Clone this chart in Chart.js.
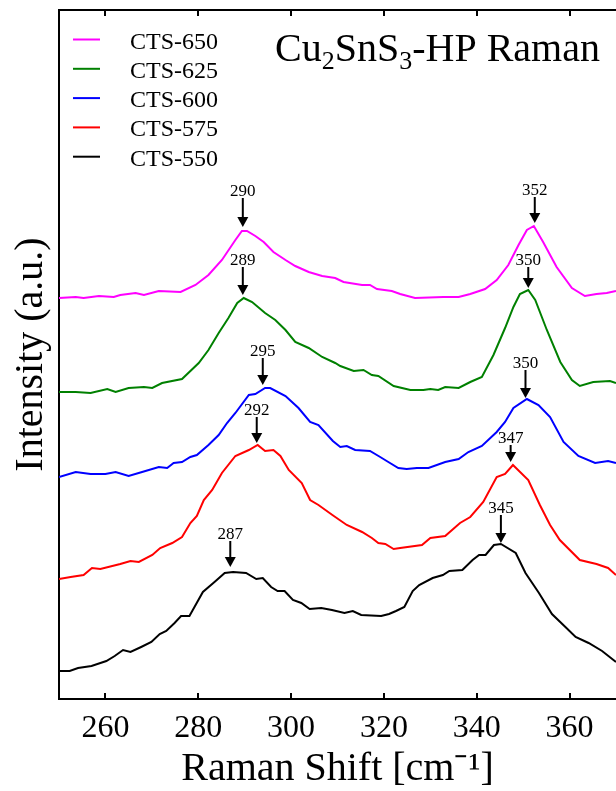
<!DOCTYPE html>
<html>
<head>
<meta charset="utf-8">
<title>Cu2SnS3-HP Raman</title>
<script src="https://cdn.jsdelivr.net/npm/chart.js@4/dist/chart.umd.min.js"></script>
<style>
    html, body { margin: 0; padding: 0; background: #ffffff; }
    #ramanChart { display: block; }
</style>
</head>
<body>
<canvas id="ramanChart" width="616" height="791"></canvas>
<script>
// Raman shift (cm-1) and intensity (a.u., curves offset vertically)
const shift650 = [250.0, 253.6, 255.3, 258.6, 261.8, 263.2, 266.5, 268.3, 271.5, 276.2, 279.4, 282.2, 285.1, 288.0, 289.4, 290.5, 292.3, 294.1, 296.2, 298.8, 300.9, 303.8, 306.7, 309.5, 311.3, 315.3, 317.0, 318.5, 321.7, 323.5, 326.7, 332.8, 336.1, 338.6, 341.8, 344.3, 346.8, 349.0, 350.8, 352.3, 354.3, 357.2, 360.5, 363.3, 365.8, 368.0, 370.0];
const int650 = [401, 402, 401, 403, 402, 404, 406, 404, 408, 407, 414, 424, 439, 459, 468, 468, 463, 457, 447, 439, 433, 427, 423, 421, 417, 414, 414, 410, 408, 405, 401, 402, 402, 405, 410, 419, 434, 454, 469, 473, 457, 432, 411, 403, 405, 406, 408];

const shift625 = [250.0, 253.6, 256.8, 260.4, 262.2, 265.0, 268.3, 270.1, 272.2, 276.5, 280.1, 282.2, 284.4, 286.5, 288.4, 289.8, 291.6, 294.4, 296.6, 298.8, 300.9, 303.8, 306.7, 309.5, 310.6, 313.5, 315.6, 317.4, 318.8, 322.1, 325.7, 328.5, 330.0, 331.7, 333.2, 336.1, 338.6, 341.1, 343.6, 346.1, 347.9, 349.3, 351.1, 352.6, 355.1, 358.0, 360.5, 362.2, 365.1, 368.7, 370.0];
const int625 = [307, 307, 306, 310, 307, 311, 312, 311, 316, 320, 336, 349, 366, 381, 396, 401, 397, 386, 379, 369, 357, 351, 342, 336, 333, 328, 329, 324, 323, 313, 309, 309, 310, 309, 312, 311, 317, 322, 344, 371, 392, 405, 409, 399, 369, 337, 319, 313, 317, 318, 316];

const shift600 = [250.0, 253.6, 256.8, 260.0, 262.2, 265.0, 267.9, 271.5, 273.3, 274.7, 276.5, 278.3, 279.7, 282.2, 284.4, 286.2, 288.0, 290.9, 292.3, 294.4, 295.5, 298.8, 301.6, 304.1, 305.9, 309.0, 310.6, 312.0, 313.8, 317.0, 319.2, 320.6, 323.1, 324.9, 327.1, 329.6, 333.2, 336.1, 338.2, 341.1, 344.3, 346.1, 347.9, 350.8, 353.3, 355.8, 358.7, 361.9, 365.5, 368.3, 370.0];
const int600 = [222, 227, 225, 225, 227, 223, 227, 232, 231, 236, 237, 242, 244, 254, 264, 276, 286, 304, 305, 311, 311, 303, 291, 277, 274, 258, 252, 253, 249, 248, 242, 238, 231, 230, 231, 231, 237, 240, 247, 253, 267, 277, 291, 300, 294, 282, 257, 243, 236, 238, 236];

const shift575 = [250.0, 252.5, 255.3, 257.1, 258.9, 263.2, 265.4, 267.2, 270.1, 271.8, 274.4, 276.5, 278.3, 279.7, 281.2, 283.0, 285.1, 288.0, 290.9, 292.8, 294.4, 296.2, 297.7, 299.5, 302.3, 304.1, 305.9, 308.9, 312.0, 315.3, 317.4, 318.8, 320.3, 322.1, 323.5, 328.2, 330.0, 333.2, 336.4, 338.6, 341.4, 344.3, 346.1, 347.8, 351.1, 353.6, 355.8, 357.9, 362.2, 365.8, 368.3, 370.0];
const int575 = [120, 122, 124, 131, 130, 135, 138, 137, 144, 151, 156, 162, 176, 183, 199, 209, 226, 243, 249, 254, 248, 249, 243, 229, 216, 199, 194, 184, 174, 167, 161, 156, 155, 150, 151, 154, 161, 163, 176, 182, 197, 222, 225, 234, 219, 194, 174, 159, 139, 135, 131, 124];

const shift550 = [250.0, 252.3, 254.1, 257.0, 260.2, 262.0, 263.8, 265.4, 267.7, 269.9, 271.7, 273.1, 274.9, 276.3, 278.1, 281.0, 283.5, 285.7, 287.5, 290.3, 292.5, 293.9, 295.7, 297.1, 298.6, 300.4, 302.2, 304.0, 306.5, 308.8, 311.5, 313.3, 315.1, 319.4, 321.1, 322.6, 324.4, 326.2, 327.6, 330.5, 332.7, 334.1, 336.9, 339.1, 340.5, 341.9, 343.7, 345.2, 348.4, 350.5, 353.4, 356.2, 359.1, 361.3, 364.1, 367.0, 370.0];
const int550 = [28, 28, 31, 33, 38, 43, 49, 47, 52, 57, 65, 68, 76, 83, 83, 107, 117, 126, 127, 126, 120, 121, 112, 108, 108, 99, 96, 90, 91, 89, 86, 88, 84, 83, 85, 88, 92, 108, 114, 121, 124, 128, 129, 139, 144, 144, 154, 155, 146, 126, 106, 85, 72, 62, 56, 48, 37];

const seriesNames = ['CTS-650', 'CTS-625', 'CTS-600', 'CTS-575', 'CTS-550'];
const seriesColors = ['#ff00ff', '#008000', '#0000ff', '#ff0000', '#000000'];

const xTicks = [260, 280, 300, 320, 340, 360];

// peak markers: position, label text, arrow tip and tail (intensity units)
const peakShift = [289.6, 289.6, 293.9, 292.6, 286.9, 352.5, 351.1, 350.5, 347.3, 345.2];
const peakLabels = ['290', '289', '295', '292', '287', '352', '350', '350', '347', '345'];
const arrowTip = [472, 404, 314, 256, 132, 476, 411, 301, 237, 156];
const arrowTail = [501, 432, 341, 282, 158, 502, 432, 329, 254, 184];

const serif = "'Liberation Serif', 'Times New Roman', serif";

function toPoints(xs, ys) {
    return xs.map((x, i) => ({ x: x, y: ys[i] }));
}

const allShifts = [shift650, shift625, shift600, shift575, shift550];
const allInts = [int650, int625, int600, int575, int550];

const datasets = seriesNames.map((name, i) => ({
    label: name,
    data: toPoints(allShifts[i], allInts[i]),
    borderColor: seriesColors[i],
    backgroundColor: seriesColors[i],
    borderWidth: 2,
    pointRadius: 0,
    tension: 0,
    fill: false
}));

// frame line on top and inward tick marks
const frameTicks = {
    id: 'frameTicks',
    afterDraw(chart) {
        const ctx = chart.ctx;
        const area = chart.chartArea;
        const xs = chart.scales.x;
        ctx.save();
        ctx.strokeStyle = '#000';
        ctx.lineWidth = 2;
        ctx.beginPath();
        ctx.moveTo(area.left - 1, area.top);
        ctx.lineTo(area.right, area.top);
        xTicks.forEach(v => {
            const px = Math.round(xs.getPixelForValue(v));
            ctx.moveTo(px, area.bottom);
            ctx.lineTo(px, area.bottom - 6);
            ctx.moveTo(px, area.top);
            ctx.lineTo(px, area.top + 6);
        });
        ctx.stroke();
        ctx.restore();
    }
};

// arrows and numbers over the peaks
const peakArrows = {
    id: 'peakArrows',
    afterDatasetsDraw(chart) {
        const ctx = chart.ctx;
        const xs = chart.scales.x;
        const ys = chart.scales.y;
        ctx.save();
        ctx.fillStyle = '#000';
        ctx.strokeStyle = '#000';
        ctx.lineWidth = 2;
        ctx.font = '17px ' + serif;
        ctx.textAlign = 'center';
        ctx.textBaseline = 'alphabetic';
        peakShift.forEach((v, i) => {
            const px = xs.getPixelForValue(v);
            const tip = ys.getPixelForValue(arrowTip[i]);
            const tail = ys.getPixelForValue(arrowTail[i]);
            ctx.beginPath();
            ctx.moveTo(px, tail);
            ctx.lineTo(px, tip - 8);
            ctx.stroke();
            ctx.beginPath();
            ctx.moveTo(px - 5.5, tip - 10);
            ctx.lineTo(px + 5.5, tip - 10);
            ctx.lineTo(px, tip);
            ctx.closePath();
            ctx.fill();
            ctx.fillText(peakLabels[i], px, tail - 2);
        });
        ctx.restore();
    }
};

// legend box in the top left corner of the plot
const insideLegend = {
    id: 'insideLegend',
    afterDraw(chart) {
        const ctx = chart.ctx;
        ctx.save();
        ctx.font = '24px ' + serif;
        ctx.textAlign = 'left';
        ctx.textBaseline = 'alphabetic';
        chart.data.datasets.forEach((ds, i) => {
            const y = 39.5 + i * 29.3;
            ctx.strokeStyle = ds.borderColor;
            ctx.lineWidth = 2;
            ctx.beginPath();
            ctx.moveTo(73, y);
            ctx.lineTo(100, y);
            ctx.stroke();
            ctx.fillStyle = '#000';
            ctx.fillText(ds.label, 130, y + 9);
        });
        ctx.restore();
    }
};

// title with subscripts: Cu2SnS3-HP Raman
const subTitle = {
    id: 'subTitle',
    afterDraw(chart) {
        const ctx = chart.ctx;
        const parts = [['Cu', false], ['2', true], ['SnS', false], ['3', true], ['-HP Raman', false]];
        let x = 275;
        const base = 61;
        ctx.save();
        ctx.fillStyle = '#000';
        ctx.textAlign = 'left';
        ctx.textBaseline = 'alphabetic';
        parts.forEach(([txt, sub]) => {
            ctx.font = (sub ? '26px ' : '40px ') + serif;
            ctx.fillText(txt, x, sub ? base + 8 : base);
            x += ctx.measureText(txt).width;
        });
        ctx.restore();
    }
};

const ctx = document.getElementById('ramanChart').getContext('2d');
new Chart(ctx, {
    type: 'line',
    data: { datasets: datasets },
    plugins: [frameTicks, peakArrows, insideLegend, subTitle],
    options: {
        responsive: false,
        animation: false,
        layout: { padding: { top: 10, right: 0, bottom: 0, left: 0 } },
        plugins: {
            legend: { display: false },
            tooltip: { enabled: false }
        },
        scales: {
            x: {
                type: 'linear',
                min: 250,
                max: 370,
                afterBuildTicks: scale => { scale.ticks = xTicks.map(v => ({ value: v })); },
                afterFit: scale => { scale.height = 92; },
                grid: { display: false, drawTicks: false },
                border: { display: true, color: '#000', width: 2 },
                ticks: {
                    color: '#000',
                    font: { family: serif, size: 32 },
                    padding: 10,
                    maxRotation: 0,
                    autoSkip: false
                },
                title: {
                    display: true,
                    text: 'Raman Shift [cm\u207B\u00B9]',
                    color: '#000',
                    font: { family: serif, size: 40, lineHeight: 1.1 },
                    padding: { top: 0, bottom: 0 }
                }
            },
            y: {
                min: 0,
                max: 689,
                afterFit: scale => { scale.width = 59; },
                grid: { display: false, drawTicks: false },
                border: { display: true, color: '#000', width: 2 },
                ticks: { display: false },
                title: {
                    display: true,
                    text: 'Intensity (a.u.)',
                    color: '#000',
                    font: { family: serif, size: 40, lineHeight: 1.2 },
                    padding: { top: 7, bottom: 0 }
                }
            }
        }
    }
});
</script>
</body>
</html>
